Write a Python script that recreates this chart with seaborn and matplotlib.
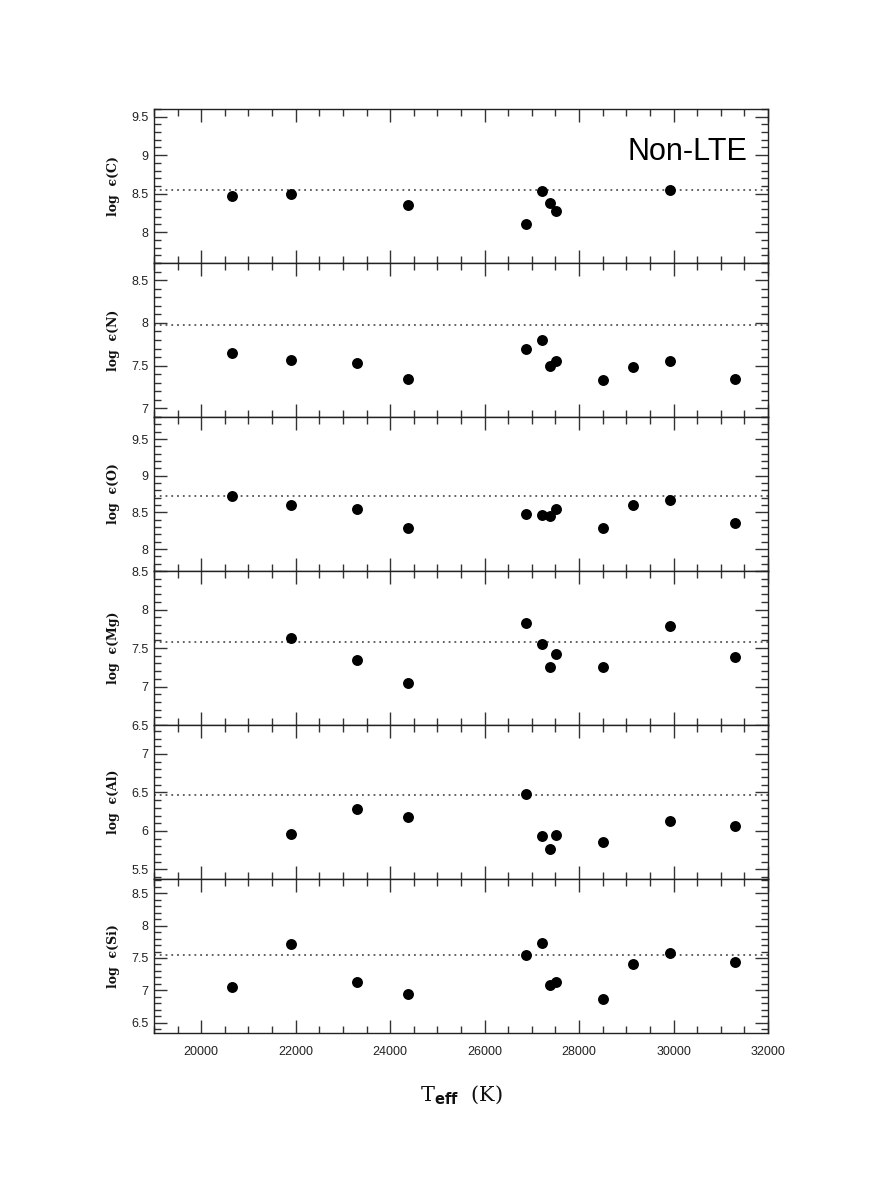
import matplotlib
matplotlib.use("Agg")
import matplotlib.pyplot as plt
import numpy as np
import pandas as pd
import seaborn as sns
from matplotlib.ticker import MultipleLocator, FuncFormatter

sns.set_theme(style="ticks")
plt.rcParams["font.family"] = ["Liberation Sans", "DejaVu Sans"]

nan = np.nan

# effective temperatures of the stars (K)
teff = [20650, 21900, 23290, 24370, 26870, 27220, 27380, 27520, 28500, 29150, 29920, 31310]

# non-LTE abundances, NaN where the element was not measured
log_c = [8.47, 8.50, nan, 8.35, 8.10, 8.54, 8.38, 8.27, nan, nan, 8.55, nan]
log_n = [7.65, 7.57, 7.53, 7.35, 7.70, 7.80, 7.50, 7.55, 7.33, 7.49, 7.56, 7.34]
log_o = [8.72, 8.60, 8.54, 8.29, 8.48, 8.46, 8.45, 8.54, 8.28, 8.60, 8.67, 8.36]
log_mg = [nan, 7.63, 7.35, 7.05, 7.82, 7.55, 7.25, 7.42, 7.26, nan, 7.78, 7.38]
log_al = [nan, 5.96, 6.28, 6.18, 6.48, 5.94, 5.77, 5.95, 5.86, nan, 6.13, 6.07]
log_si = [7.05, 7.71, 7.13, 6.95, 7.55, 7.73, 7.08, 7.13, 6.86, 7.41, 7.57, 7.44]

elements = ["C", "N", "O", "Mg", "Al", "Si"]
solar = [8.55, 7.97, 8.72, 7.58, 6.47, 7.55]
ylims = [(7.6, 9.6), (6.9, 8.7), (7.7, 9.8), (6.5, 8.5), (5.375, 7.375), (6.34, 8.72)]

data = pd.DataFrame(
    {"teff": teff, "C": log_c, "N": log_n, "O": log_o, "Mg": log_mg, "Al": log_al, "Si": log_si}
)

fig, axes = plt.subplots(6, 1, figsize=(8.72, 11.99), dpi=100, sharex=True)
fig.subplots_adjust(left=0.1766, right=0.8807, top=0.9091, bottom=0.1384, hspace=0)

fmt = FuncFormatter(lambda v, _: f"{v:g}")

for ax, el, sol, lim in zip(axes, elements, solar, ylims):
    sub = data[["teff", el]].dropna()
    sns.scatterplot(data=sub, x="teff", y=el, ax=ax, color="black", s=62,
                    edgecolor="black", linewidth=0, zorder=3)
    ax.axhline(sol, color="#555555", linestyle=(0, (1, 2.2)), linewidth=1.3, zorder=2)

    ax.set_xlim(19000, 32000)
    ax.set_ylim(*lim)
    ax.xaxis.set_major_locator(MultipleLocator(2000))
    ax.xaxis.set_minor_locator(MultipleLocator(500))
    ax.yaxis.set_major_locator(MultipleLocator(0.5))
    ax.yaxis.set_minor_locator(MultipleLocator(0.1))
    ax.yaxis.set_major_formatter(fmt)

    ax.tick_params(which="both", direction="in", top=True, right=True,
                   color="#333333", width=1.0, labelsize=9, labelcolor="#222222")
    ax.tick_params(which="major", length=9.5)
    ax.tick_params(which="minor", length=5)
    ax.tick_params(axis="y", pad=4)
    ax.tick_params(axis="x", pad=9)

    for sp in ax.spines.values():
        sp.set_color("#222222")
        sp.set_linewidth(1.0)

    ax.set_xlabel("")
    ax.set_ylabel(f"log  \u03f5({el})", family="DejaVu Serif", fontweight="bold",
                  fontsize=9, color="#111111")
    ax.yaxis.set_label_coords(-0.056, 0.5)

axes[0].text(0.967, 0.672, "Non-LTE", transform=axes[0].transAxes, ha="right",
             va="baseline", fontsize=22, color="black")

axes[-1].set_xlabel(r"T$_{\mathbf{eff}}$  (K)", family="DejaVu Serif", fontsize=15,
                    labelpad=19, color="#111111")

fig.savefig("out.png", dpi=100)
